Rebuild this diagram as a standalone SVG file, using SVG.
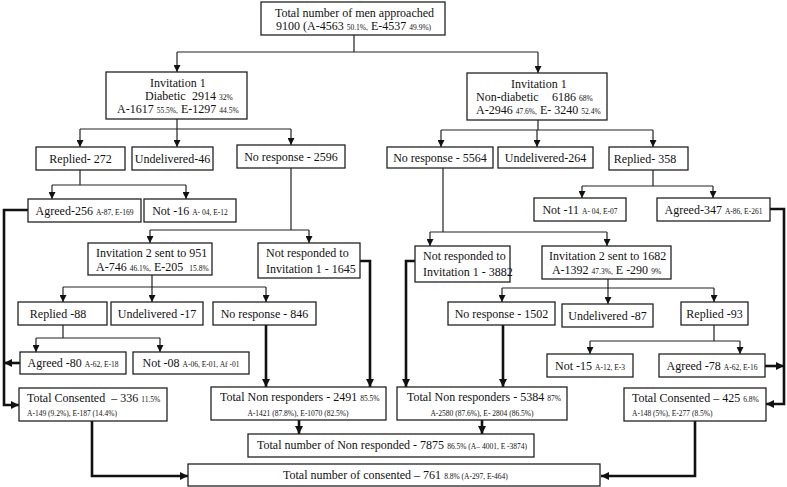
<svg xmlns="http://www.w3.org/2000/svg" width="787" height="487" viewBox="0 0 787 487">
<style>
text{font-family:"Liberation Serif","Times New Roman",serif;font-size:12px;fill:#111}
.m{text-anchor:middle}
.s{font-size:7.5px}
.t{font-size:7.5px}
.b{fill:#fff;stroke:#222;stroke-width:1.3}
.c{fill:none;stroke:#222;stroke-width:1.2}
.k{fill:none;stroke:#111;stroke-width:2.6}
.a{marker-end:url(#ah)}
.ak{marker-end:url(#ahk)}
</style>
<defs>
<marker id="ah" viewBox="0 0 10 10" refX="10" refY="5" markerWidth="7" markerHeight="7" markerUnits="userSpaceOnUse" orient="auto"><path d="M0,0 L10,5 L0,10 z" fill="#111"/></marker>
<marker id="ahk" viewBox="0 0 10 10" refX="10" refY="5" markerWidth="9" markerHeight="8" markerUnits="userSpaceOnUse" orient="auto"><path d="M0,0 L10,5 L0,10 z" fill="#111"/></marker>
</defs>
<rect width="787" height="487" fill="#fff"/>
<g id="connectors">
<path class="c" d="M354,35 V52 M177,52 H538"/>
<path class="c a" d="M177,52 V72"/>
<path class="c a" d="M538,52 V73"/>
<path class="c" d="M177,119 V129 M80,129 H291"/>
<path class="c a" d="M80,129 V147"/>
<path class="c a" d="M177,129 V147"/>
<path class="c a" d="M291,129 V145"/>
<path class="c" d="M80,170 V185 M52,185 H186"/>
<path class="c a" d="M52,185 V199"/>
<path class="c a" d="M186,185 V199"/>
<path class="c" d="M291,168 V230 M150,230 H309"/>
<path class="c a" d="M150,230 V243"/>
<path class="c a" d="M309,230 V243"/>
<path class="c" d="M152,275 V287 M63,287 H266"/>
<path class="c a" d="M63,287 V302"/>
<path class="c a" d="M152,287 V302"/>
<path class="c a" d="M266,287 V302"/>
<path class="c" d="M63,325 V338 M36,338 H160"/>
<path class="c a" d="M36,338 V352"/>
<path class="c a" d="M160,338 V352"/>
<path class="c" d="M538,120 V130 M441,130 H653"/>
<path class="c a" d="M441,130 V147"/>
<path class="c a" d="M537,130 V147"/>
<path class="c a" d="M653,130 V147"/>
<path class="c" d="M653,169 V186 M582,186 H713"/>
<path class="c a" d="M582,186 V198"/>
<path class="c a" d="M713,186 V198"/>
<path class="c" d="M443,167 V232 M430,232 H607"/>
<path class="c a" d="M430,232 V246"/>
<path class="c a" d="M607,232 V246"/>
<path class="c" d="M608,279 V288 M502,288 H714"/>
<path class="c a" d="M502,288 V302"/>
<path class="c a" d="M608,288 V304"/>
<path class="c a" d="M714,288 V302"/>
<path class="c" d="M714,325 V341 M590,341 H740"/>
<path class="c a" d="M590,341 V354"/>
<path class="c a" d="M740,341 V354"/>
<path class="k ak" d="M28,210 H4 V405 H19"/>
<path class="k ak" d="M20,363 H4"/>
<path class="k ak" d="M360,261 H370 V387"/>
<path class="k ak" d="M266,325 V387"/>
<path class="k ak" d="M299,420 V434"/>
<path class="k ak" d="M92,421 V476 H188"/>
<path class="k ak" d="M770,209 H784 V404 H766"/>
<path class="k ak" d="M765,366 H784"/>
<path class="k ak" d="M415,261 H406 V387"/>
<path class="k ak" d="M503,325 V387"/>
<path class="k ak" d="M482,420 V434"/>
<path class="k ak" d="M695,421 V476 H601"/>
</g>
<g id="n-total"><rect class="b" x="261" y="2" width="184" height="33"/>
<text x="275" y="17">Total number of men approached</text>
<text x="276" y="30">9100 (A-4563 <tspan class="s">50.1%,</tspan> E-4537 <tspan class="s">49.9%)</tspan></text></g>
<g id="n-diab"><rect class="b" x="106" y="72" width="141" height="47"/>
<text x="150" y="87">Invitation 1</text>
<text x="145" y="100">Diabetic<tspan x="192">2914 </tspan><tspan class="s">32%</tspan></text>
<text x="117" y="113">A-1617 <tspan class="s">55.5%,</tspan> E-1297 <tspan class="s">44.5%</tspan></text></g>
<g id="n-nondiab"><rect class="b" x="467" y="73" width="140" height="47"/>
<text x="511" y="88">Invitation 1</text>
<text x="476" y="101">Non-diabetic<tspan x="552">6186 </tspan><tspan class="s">68%</tspan></text>
<text x="476" y="114">A-2946 <tspan class="s">47.6%,</tspan> E- 3240 <tspan class="s">52.4%</tspan></text></g>
<g id="n-rep272"><rect class="b" x="36" y="147" width="89" height="23"/><text class="m" x="80.5" y="162.5">Replied- 272</text></g>
<g id="n-und46"><rect class="b" x="132" y="147" width="81" height="23"/><text class="m" x="172.5" y="162.5">Undelivered-46</text></g>
<g id="n-nr2596"><rect class="b" x="237" y="145" width="108" height="23"/><text class="m" x="291" y="160.5">No response - 2596</text></g>
<g id="n-agr256"><rect class="b" x="28" y="199" width="113" height="23"/><text class="m" x="84.5" y="214.5">Agreed-256 <tspan class="s">A-87, E-169</tspan></text></g>
<g id="n-not16"><rect class="b" x="144" y="199" width="92" height="23"/><text class="m" x="190" y="214.5">Not -16 <tspan class="s">A- 04, E-12</tspan></text></g>
<g id="n-inv951"><rect class="b" x="88" y="243" width="124" height="32"/>
<text x="96" y="257">Invitation 2 sent to 951</text>
<text x="96" y="271">A-746 <tspan class="s">46.1%,</tspan> E-205 <tspan class="s" dx="3">15.8%</tspan></text></g>
<g id="n-nr1645"><rect class="b" x="258" y="243" width="102" height="35"/>
<text x="266" y="257">Not responded to</text>
<text x="266" y="273">Invitation 1 - 1645</text></g>
<g id="n-rep88"><rect class="b" x="18" y="302" width="89" height="23"/><text class="m" x="58" y="318">Replied -88</text></g>
<g id="n-und17"><rect class="b" x="111" y="302" width="92" height="23"/><text class="m" x="157" y="318">Undelivered -17</text></g>
<g id="n-nr846"><rect class="b" x="213" y="302" width="103" height="23"/><text class="m" x="264.5" y="318">No response - 846</text></g>
<g id="n-agr80"><rect class="b" x="20" y="352" width="106" height="22"/><text class="m" x="73" y="367">Agreed -80 <tspan class="s">A-62, E-18</tspan></text></g>
<g id="n-not08"><rect class="b" x="133" y="352" width="116" height="22"/><text class="m" x="191" y="367">Not -08 <tspan class="s">A-06, E-01, Af -01</tspan></text></g>
<g id="n-tc336"><rect class="b" x="19" y="388" width="148" height="33"/>
<text x="27" y="402">Total Consented <tspan dx="3">– 336 </tspan><tspan class="s">11.5%</tspan></text>
<text class="t" x="27" y="416">A-149 (9.2%), E-187 (14.4%)</text></g>
<g id="n-tnr2491"><rect class="b" x="211" y="387" width="175" height="33"/>
<text x="220" y="401">Total Non responders - 2491 <tspan class="s">85.5%</tspan></text>
<text class="t m" x="298" y="416">A-1421 (87.8%), E-1070 (82.5%)</text></g>
<g id="n-nr5564"><rect class="b" x="387" y="147" width="106" height="21"/><text class="m" x="440" y="161.5">No response - 5564</text></g>
<g id="n-und264"><rect class="b" x="498" y="147" width="95" height="21"/><text class="m" x="545.5" y="161.5">Undelivered-264</text></g>
<g id="n-rep358"><rect class="b" x="609" y="147" width="79" height="23"/><text class="m" x="645" y="162.5">Replied- 358</text></g>
<g id="n-not11"><rect class="b" x="534" y="198" width="92" height="23"/><text class="m" x="580" y="213.5">Not -11 <tspan class="s">A- 04, E-07</tspan></text></g>
<g id="n-agr347"><rect class="b" x="657" y="198" width="113" height="23"/><text class="m" x="713.5" y="213.5">Agreed-347 <tspan class="s">A-86, E-261</tspan></text></g>
<g id="n-nr3882"><rect class="b" x="415" y="246" width="95" height="36"/>
<text x="423" y="260">Not responded to</text>
<text x="423" y="276">Invitation 1 - 3882</text></g>
<g id="n-inv1682"><rect class="b" x="542" y="246" width="129" height="33"/>
<text x="549" y="260">Invitation 2 sent to 1682</text>
<text class="m" x="606.5" y="274">A-1392 <tspan class="s">47.3%,</tspan> E -290 <tspan class="s">9%</tspan></text></g>
<g id="n-nr1502"><rect class="b" x="448" y="302" width="107" height="23"/><text class="m" x="501.5" y="318">No response - 1502</text></g>
<g id="n-und87"><rect class="b" x="562" y="304" width="91" height="23"/><text class="m" x="607.5" y="320">Undelivered -87</text></g>
<g id="n-rep93"><rect class="b" x="681" y="302" width="67" height="23"/><text class="m" x="714.5" y="318">Replied -93</text></g>
<g id="n-not15"><rect class="b" x="547" y="354" width="86" height="23"/><text class="m" x="590" y="369.5">Not -15 <tspan class="s">A-12, E-3</tspan></text></g>
<g id="n-agr78"><rect class="b" x="659" y="354" width="106" height="23"/><text class="m" x="712" y="369.5">Agreed -78 <tspan class="s">A-62, E-16</tspan></text></g>
<g id="n-tnr5384"><rect class="b" x="397" y="387" width="170" height="33"/>
<text x="407" y="401">Total Non responders - 5384 <tspan class="s">87%</tspan></text>
<text class="t m" x="482" y="416">A-2580 (87.6%), E- 2804 (86.5%)</text></g>
<g id="n-tc425"><rect class="b" x="624" y="388" width="142" height="33"/>
<text x="632" y="402">Total Consented – 425 <tspan class="s">6.8%</tspan></text>
<text class="t" x="632" y="416">A-148 (5%), E-277 (8.5%)</text></g>
<g id="n-tnr7875"><rect class="b" x="248" y="434" width="286" height="23"/>
<text x="257" y="449">Total number of Non responded - 7875 <tspan class="s">86.5% (A– 4001, E -3874)</tspan></text></g>
<g id="n-tc761"><rect class="b" x="188" y="464" width="412" height="22"/>
<text x="283" y="479">Total number of consented – 761 <tspan class="s">8.8% (A-297, E-464)</tspan></text></g>
</svg>
